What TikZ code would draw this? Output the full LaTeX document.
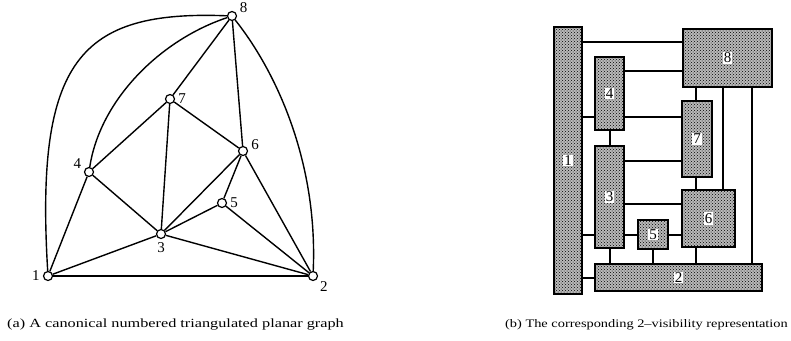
\documentclass[tikz,border=0pt]{standalone}
\usepackage{fontspec}
\setmainfont{Liberation Serif}
\newfontfamily\capafont[FakeStretch=1.3, Ligatures=TeX]{Liberation Serif}
\newfontfamily\capbfont[FakeStretch=1.25, Ligatures=TeX]{Liberation Serif}
\usepackage{tikz}
\usetikzlibrary{patterns}

\begin{document}
\begin{tikzpicture}[
		x=1pt, y=-1pt,
		vtx/.style={circle, draw, fill=white, line width=1.2pt, inner sep=0pt, minimum size=9pt},
		edge/.style={line width=1.4pt},
		num/.style={font=\fontsize{15}{15}\selectfont, inner sep=1pt, label distance=2pt},
		bar/.style={draw, line width=1.8pt, preaction={fill=gray!55}, pattern=crosshatch dots, inner sep=0pt},
		conn/.style={line width=1.8pt},
		tag/.style={fill=white, inner sep=1pt, font=\fontsize{15}{15}\selectfont},
		captext/.style={inner sep=0pt}
		]
		\useasboundingbox (0,0) rectangle (791,340);
		
		% Vertices of the planar graph
		\node[vtx, label={[num]180:1}] (v1) at (48,276) {};
		\node[vtx, label={[num]-35:2}] (v2) at (313,276) {};
		\node[vtx, label={[num]-90:3}] (v3) at (161,234) {};
		\node[vtx, label={[num]160:4}] (v4) at (89,172) {};
		\node[vtx, label={[num]0:5}] (v5) at (222,203) {};
		\node[vtx, label={[num]5:6}] (v6) at (243,151) {};
		\node[vtx, label={[num]0:7}] (v7) at (170,99) {};
		\node[vtx, label={[num]20:8}] (v8) at (232,16) {};
		
		% Straight edges
		\foreach \a/\b in {1/2, 1/3, 1/4, 4/7, 4/3, 7/3, 7/6, 7/8, 8/6, 6/3, 6/5, 6/2, 5/3, 5/2, 3/2}
		\draw[edge] (v\a) -- (v\b);
		
		% Curved edges
		\draw[edge] (v1) .. controls (35,60) and (80,10) .. (v8);
		\draw[edge] (v4) .. controls (100,100) and (160,40) .. (v8);
		\draw[edge] (v8) .. controls (275,70) and (318,160) .. (v2);
		
		% Bars of the visibility representation
		\node[bar, minimum width=28pt, minimum height=267pt, label={[tag]center:1}] (b1) at (568,160.5) {};
		\node[bar, minimum width=89pt, minimum height=58pt, label={[tag]center:8}] (b8) at (727.5,58) {};
		\node[bar, minimum width=29pt, minimum height=73pt, label={[tag]center:4}] (b4) at (609.5,93.5) {};
		\node[bar, minimum width=30pt, minimum height=76pt, label={[tag]center:7}] (b7) at (697,139) {};
		\node[bar, minimum width=29pt, minimum height=102pt, label={[tag]center:3}] (b3) at (609.5,197) {};
		\node[bar, minimum width=53pt, minimum height=57pt, label={[tag]center:6}] (b6) at (708.5,218.5) {};
		\node[bar, minimum width=30pt, minimum height=29pt, label={[tag]center:5}] (b5) at (653,234.5) {};
		\node[bar, minimum width=167pt, minimum height=27pt, label={[tag]center:2}] (b2) at (678.5,277.5) {};
		
		% Horizontal visibilities
		\draw[conn] (b1.east |- 0,42) -- (b8.west |- 0,42);
		\draw[conn] (b4.east |- 0,71) -- (b8.west |- 0,71);
		\draw[conn] (b1.east |- 0,117) -- (b4.west |- 0,117);
		\draw[conn] (b4.east |- 0,117) -- (b7.west |- 0,117);
		\draw[conn] (b3.east |- 0,161) -- (b7.west |- 0,161);
		\draw[conn] (b3.east |- 0,204) -- (b6.west |- 0,204);
		\draw[conn] (b1.east |- 0,235) -- (b3.west |- 0,235);
		\draw[conn] (b3.east |- 0,235) -- (b5.west |- 0,235);
		\draw[conn] (b5.east |- 0,235) -- (b6.west |- 0,235);
		\draw[conn] (b1.east |- 0,278) -- (b2.west |- 0,278);
		
		% Vertical visibilities
		\draw[conn] (696,0 |- b8.south) -- (696,0 |- b7.north);
		\draw[conn] (723,0 |- b8.south) -- (723,0 |- b6.north);
		\draw[conn] (752,0 |- b8.south) -- (752,0 |- b2.north);
		\draw[conn] (610,0 |- b4.south) -- (610,0 |- b3.north);
		\draw[conn] (696,0 |- b7.south) -- (696,0 |- b6.north);
		\draw[conn] (610,0 |- b3.south) -- (610,0 |- b2.north);
		\draw[conn] (653,0 |- b5.south) -- (653,0 |- b2.north);
		\draw[conn] (696,0 |- b6.south) -- (696,0 |- b2.north);
		
		% Captions
		\node[captext, anchor=west, font=\capafont\fontsize{12.5}{12.5}\selectfont] (capa) at (7,325) {(a) A canonical numbered triangulated planar graph};
		\node[captext, anchor=east, font=\capbfont\fontsize{11.5}{11.5}\selectfont] (capb) at (788,325) {(b) The corresponding 2--visibility representation};
		
	\end{tikzpicture}
\end{document}
